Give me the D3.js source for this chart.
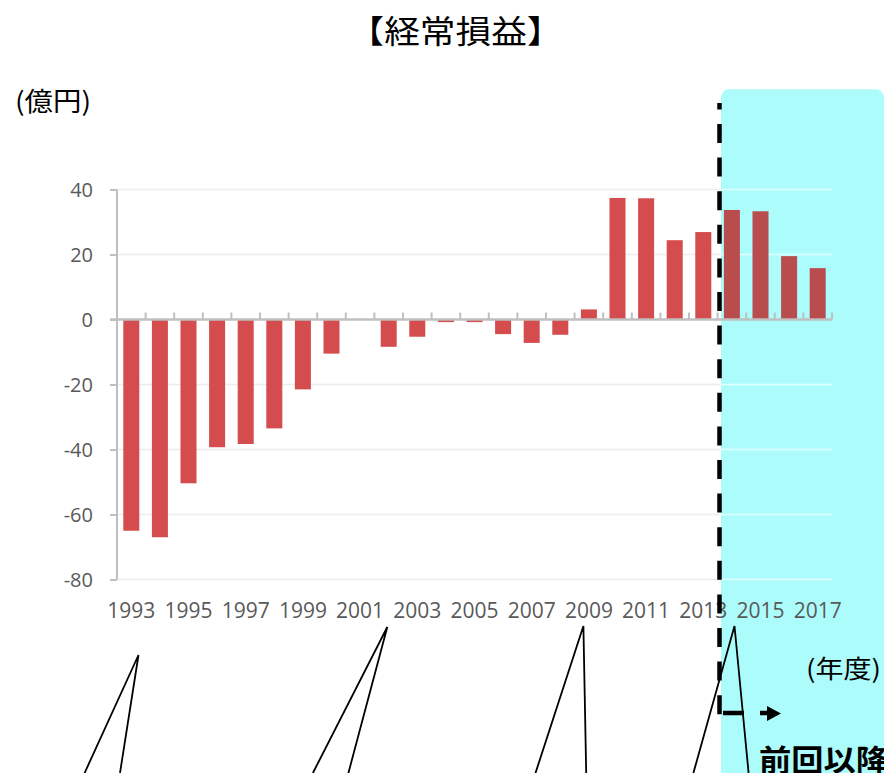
<!DOCTYPE html>
<html>
<head>
<meta charset="utf-8">
<script src="https://cdn.jsdelivr.net/npm/d3@7"></script>
<style>
  html, body { margin: 0; padding: 0; background: #ffffff; }
  svg { display: block; }
</style>
</head>
<body>
<svg id="chart" width="884" height="773"></svg>
<script>
// ---- data ----
const years = ["1993","1994","1995","1996","1997","1998","1999","2000","2001","2002","2003","2004","2005",
               "2006","2007","2008","2009","2010","2011","2012","2013","2014","2015","2016","2017"];
const values = [-65, -67, -50.4, -39.3, -38.3, -33.5, -21.5, -10.5, 0, -8.4, -5.3, -0.8, -0.8,
                -4.5, -7.2, -4.7, 3.1, 37.4, 37.3, 24.4, 26.9, 33.7, 33.3, 19.5, 15.8];
const yTicks = [40, 20, 0, -20, -40, -60, -80];
const xTickLabels = ["1993","1995","1997","1999","2001","2003","2005","2007","2009","2011","2013","2015","2017"];
const titleText = "【経常損益】";
const yUnit = "(億円)";
const xUnit = "(年度)";
const noteText = "前回以降";
// callout tails (decoration): apex and two bottom points
const callouts = [
  [[138.5, 655], [84.6, 773], [120, 773]],
  [[387.3, 627], [312.9, 773], [348.4, 773]],
  [[583.4, 626], [535.5, 773], [586.2, 773]],
  [[734.5, 626], [693.4, 773], [748.6, 773]]
];

(function () {
// ---- layout ----
const svg = d3.select("#chart");
const pl = 117, pr = 832, pt = 189.5, pb = 579.5;
const cyanX = 721;

const x = d3.scaleBand().domain(years).range([pl, pr]).paddingInner(0.44).paddingOuter(0.22);
const y = d3.scaleLinear().domain([-80, 40]).range([pb, pt]);

// cyan highlight region
svg.append("rect")
  .attr("x", cyanX).attr("y", 89.3).attr("width", 884 - cyanX).attr("height", 720)
  .attr("rx", 8).attr("ry", 8)
  .attr("fill", "#adfcfc");

svg.append("clipPath").attr("id", "whiteClip")
  .append("rect").attr("x", 0).attr("y", 0).attr("width", cyanX).attr("height", 773);
svg.append("clipPath").attr("id", "cyanClip")
  .append("rect").attr("x", cyanX).attr("y", 0).attr("width", 884 - cyanX).attr("height", 773);

// gridlines
const gridTicks = yTicks.filter(t => t !== 0);
svg.append("g").attr("clip-path", "url(#whiteClip)")
  .selectAll("line").data(gridTicks).join("line")
  .attr("x1", pl).attr("x2", pr)
  .attr("y1", d => y(d)).attr("y2", d => y(d))
  .attr("stroke", "#ececec").attr("stroke-width", 1.5);
svg.append("g").attr("clip-path", "url(#cyanClip)")
  .selectAll("line").data(gridTicks).join("line")
  .attr("x1", pl).attr("x2", pr)
  .attr("y1", d => y(d)).attr("y2", d => y(d))
  .attr("stroke", "#e4ffff").attr("stroke-width", 1.5);

// bars
svg.append("g").selectAll("rect").data(values).join("rect")
  .attr("x", (d, i) => x(years[i]))
  .attr("width", x.bandwidth())
  .attr("y", d => y(Math.max(0, d)))
  .attr("height", d => Math.abs(y(d) - y(0)))
  .attr("fill", (d, i) => x(years[i]) > cyanX ? "#b94c4d" : "#d44c4e");

// y axis
const yAxis = svg.append("g").attr("transform", `translate(${pl},0)`)
  .call(d3.axisLeft(y).tickValues(yTicks).tickSize(7).tickPadding(17).tickFormat(d => String(d)));
yAxis.select(".domain").attr("stroke", "#bfbfbf").attr("stroke-width", 2)
  .attr("d", `M0,${pt}V${pb}`);
yAxis.selectAll(".tick line").attr("stroke", "#bfbfbf").attr("stroke-width", 2);
yAxis.selectAll(".tick text")
  .attr("fill", "#595959").attr("font-family", "'Open Sans', sans-serif").attr("font-size", 20)
  .attr("dy", "0.36em");

// x axis (at zero) with boundary ticks pointing up
const boundaries = d3.range(years.length + 1).map(i => pl + i * x.step());
const xg = svg.append("g");
xg.selectAll("line.tk").data(boundaries).join("line").attr("class", "tk")
  .attr("x1", d => d).attr("x2", d => d)
  .attr("y1", y(0) - 7).attr("y2", y(0))
  .attr("stroke", "#bfbfbf").attr("stroke-width", 2);
xg.append("line")
  .attr("x1", pl - 7).attr("x2", pr)
  .attr("y1", y(0)).attr("y2", y(0))
  .attr("stroke", "#bfbfbf").attr("stroke-width", 2.5);

// x labels
svg.append("g").selectAll("text").data(xTickLabels).join("text")
  .attr("x", d => x(d) + x.bandwidth() / 2)
  .attr("y", 618)
  .attr("text-anchor", "middle")
  .attr("fill", "#595959").attr("font-family", "'Open Sans', sans-serif").attr("font-size", 21)
  .text(d => d);

// dashed divider
svg.append("line")
  .attr("x1", 719.5).attr("x2", 719.5).attr("y1", 103).attr("y2", 716)
  .attr("stroke", "#000").attr("stroke-width", 4.5)
  .attr("stroke-dasharray", "19,14.6").attr("stroke-dashoffset", 12.6);

// dashed arrow
svg.append("line")
  .attr("x1", 723).attr("x2", 768).attr("y1", 713).attr("y2", 713)
  .attr("stroke", "#000").attr("stroke-width", 4.5)
  .attr("stroke-dasharray", "21,16");
svg.append("path")
  .attr("d", "M767,706 L781,713.5 L767,721 Z")
  .attr("fill", "#000");

// callout tails
svg.append("g").selectAll("path").data(callouts).join("path")
  .attr("d", d => `M${d[1][0]},${d[1][1]}L${d[0][0]},${d[0][1]}L${d[2][0]},${d[2][1]}`)
  .attr("fill", "none").attr("stroke", "#000").attr("stroke-width", 1.8);

// texts
const cjk = "'Noto Sans CJK JP', sans-serif";
svg.append("text").attr("x", 455.5).attr("y", 42.5).attr("text-anchor", "middle")
  .attr("font-family", cjk).attr("font-size", 32).attr("fill", "#000")
  .attr("textLength", 214).attr("lengthAdjust", "spacingAndGlyphs").text(titleText);
svg.append("text").attr("x", 15).attr("y", 110.5)
  .attr("font-family", cjk).attr("font-size", 26).attr("fill", "#000")
  .attr("textLength", 76).attr("lengthAdjust", "spacingAndGlyphs").text(yUnit);
svg.append("text").attr("x", 806).attr("y", 677.5)
  .attr("font-family", cjk).attr("font-size", 25).attr("fill", "#000")
  .attr("textLength", 75).attr("lengthAdjust", "spacingAndGlyphs").text(xUnit);
svg.append("text").attr("x", 759).attr("y", 770.5)
  .attr("font-family", cjk).attr("font-size", 30).attr("font-weight", "bold").attr("fill", "#000")
  .attr("textLength", 129).attr("lengthAdjust", "spacingAndGlyphs").text(noteText);
})();
</script>
</body>
</html>
